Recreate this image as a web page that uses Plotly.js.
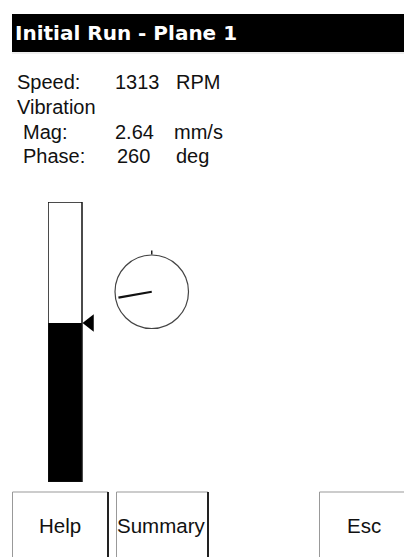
<!DOCTYPE html>
<html>
<head>
<meta charset="utf-8">
<script src="https://cdn.plot.ly/plotly-2.35.2.min.js"></script>
<style>html,body{margin:0;padding:0;background:#fff;}#chart{width:404px;height:557px;}</style>
</head>
<body>
<div id="chart"></div>
<script>
// ---- data ----
const titleText = "Initial Run - Plane 1";
const speedValue = 1313;
const speedUnit = "RPM";
const magValue = 2.64;
const magUnit = "mm/s";
const phaseValue = 260;
const phaseUnit = "deg";
const barScaleMax = 4.65;          // full-scale of the vibration bar (estimated)
const needleLength = [0, 0.92];    // radial extent of the phase needle
const buttonLabels = ["Help", "Summary", "Esc"];

// ---- layout helpers (pixel geometry) ----
const W = 404, H = 557;
const py = v => (H - v) / H;   // pixel-y to paper fraction
const px = v => v / W;

const textFont = {family: "Liberation Sans, Arial, sans-serif", size: 20, color: "#111"};

function label(text, x, y, anchor, font) {
  return {text: text, x: x, y: y, xref: "x", yref: "y", xanchor: anchor || "left",
          yanchor: "middle", showarrow: false, borderpad: 0, font: font || textFont};
}

const annotations = [
  label("<b>" + titleText + "</b>", 14, 33, "left",
        {family: "DejaVu Sans, sans-serif", size: 20, color: "#fff"}),
  label("Speed:", 16, 82),
  label(String(speedValue), 114, 82),
  label(speedUnit, 175, 82),
  label("Vibration", 16, 107),
  label("Mag:", 22, 132),
  label(magValue.toFixed(2), 114, 132),
  label(magUnit, 173, 132),
  label("Phase:", 22, 156),
  label(String(phaseValue), 116, 156),
  label(phaseUnit, 175, 156),
  label(buttonLabels[0], 60, 525, "center", Object.assign({}, textFont, {size: 20.5})),
  label(buttonLabels[1], 116, 525, "left", Object.assign({}, textFont, {size: 20.5})),
  label(buttonLabels[2], 364, 525, "center", Object.assign({}, textFont, {size: 20.5}))
];

const shapes = [
  // header bar
  {type: "rect", xref: "x", yref: "y", x0: 12, x1: 405, y0: 14, y1: 52,
   fillcolor: "#000", line: {width: 0}, layer: "below"},
  {type: "line", xref: "x", yref: "y", x0: 12, x1: 405, y0: 53, y1: 53,
   line: {color: "#ddd", width: 1}, layer: "below"},
  // buttons
  {type: "rect", xref: "x", yref: "y", x0: 12.5, x1: 108, y0: 492, y1: 560,
   line: {color: "#999", width: 1}, fillcolor: "rgba(0,0,0,0)"},
  {type: "line", xref: "x", yref: "y", x0: 108, x1: 108, y0: 492, y1: 560,
   line: {color: "#222", width: 2}},
  {type: "rect", xref: "x", yref: "y", x0: 116.5, x1: 208, y0: 492, y1: 560,
   line: {color: "#999", width: 1}, fillcolor: "rgba(0,0,0,0)"},
  {type: "line", xref: "x", yref: "y", x0: 208, x1: 208, y0: 492, y1: 560,
   line: {color: "#222", width: 2}},
  {type: "rect", xref: "x", yref: "y", x0: 319.5, x1: 410, y0: 492, y1: 560,
   line: {color: "#999", width: 1}, fillcolor: "rgba(0,0,0,0)"},
  // bar outline
  {type: "rect", xref: "x2", yref: "y2", x0: -0.5, x1: 0.5, y0: 0, y1: barScaleMax,
   line: {color: "#111", width: 1.5}, fillcolor: "rgba(0,0,0,0)"}
];

// bar subplot geometry: x-domain 48..100 px; bar is 1 unit = 34 px wide
const barX0 = 48, barX1 = 100, unitPx = 34;
const x2range = [-0.5, -0.5 + (barX1 - barX0) / unitPx];

const traces = [
  {type: "bar", x: [0], y: [magValue], width: [1], xaxis: "x2", yaxis: "y2",
   marker: {color: "#000", line: {width: 0}}, hoverinfo: "skip", showlegend: false},
  {type: "scatter", mode: "markers", x: [0.5 + 8 / unitPx], y: [magValue],
   xaxis: "x2", yaxis: "y2", cliponaxis: false,
   marker: {symbol: "triangle-left", size: 15, color: "#000"},
   hoverinfo: "skip", showlegend: false},
  {type: "scatterpolar", mode: "lines", r: needleLength, theta: [phaseValue, phaseValue],
   line: {color: "#111", width: 2.2}, subplot: "polar", hoverinfo: "skip", showlegend: false}
];

const layout = {
  width: W, height: H, margin: {l: 0, r: 0, t: 0, b: 0, pad: 0},
  paper_bgcolor: "#fff", plot_bgcolor: "rgba(0,0,0,0)", showlegend: false,
  xaxis: {range: [0, W], domain: [0, 1], visible: false, fixedrange: true},
  yaxis: {range: [H, 0], domain: [0, 1], visible: false, fixedrange: true},
  xaxis2: {range: x2range, domain: [px(barX0), px(barX1)], visible: false,
           anchor: "y2", fixedrange: true},
  yaxis2: {range: [0, barScaleMax], domain: [py(482), py(202)], visible: false,
           anchor: "x2", fixedrange: true},
  polar: {
    domain: {x: [px(115), px(188.5)], y: [py(328.5), py(255)]},
    bgcolor: "rgba(0,0,0,0)",
    radialaxis: {range: [0, 1], visible: false},
    angularaxis: {direction: "clockwise", rotation: 90, showgrid: false,
                  showticklabels: false, tickvals: [0], ticks: "outside",
                  ticklen: 4, tickwidth: 1.5, tickcolor: "#222",
                  showline: true, linecolor: "#444", linewidth: 1.2}
  },
  annotations: annotations,
  shapes: shapes
};

Plotly.newPlot("chart", traces, layout, {staticPlot: true, displayModeBar: false});
</script>
</body>
</html>
